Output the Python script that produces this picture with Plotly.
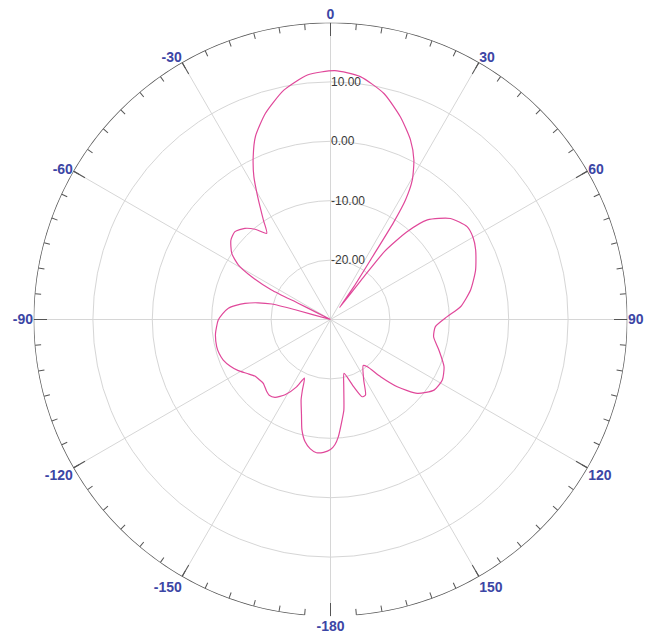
import numpy as np
import plotly.graph_objects as go

# ---- data ----
theta_deg = [
    -180, -177, -174, -171, -168.2, -165.5, -163.1, -159.9, -158.3, -156.0,
    -153.3, -148.9, -144.5, -141, -138.5, -133.5, -130, -126.8, -123, -119,
    -115, -110.7, -107, -103.4, -96.9, -90.3, -87, -83.7, -81.5, -79.3,
    -77, -75.2, -74.6, -73.5, -64.5, -63.2, -63.3, -63.4, -61.5, -59.4,
    -56.2, -51.4, -47.4, -43.2, -39.9, -36.5, -34.0, -31.1, -28.2, -25.4,
    -22.3, -17.5, -11.5, -5.4, 1.0, 7.0, 13.3, 19.0, 24.0, 27.6,
    30.4, 32.1, 33.0, 33.9, 35.4, 37.0, 38.0, 38.5, 41.1, 44.2,
    49.9, 55.8, 60, 64.4, 71.2, 78.1, 84.4, 88.6, 93.9, 99.5,
    105.7, 112.6, 118.4, 124.3, 130.4, 135.2, 138.8, 142.1, 144.6, 151.2,
    155.1, 157.7, 160.9, 165.9, 168.8, 171.6, 173.4, 176.2, 178, 180,
]
gain_db = [
    -8.1, -7.6, -7.45, -8.0, -9.0, -10.8, -13.2, -15.6, -17.2, -19.2,
    -17.3, -15.2, -13.9, -13.6, -13.8, -14.4, -14.3, -14.1, -13.3, -12.25,
    -11.4, -10.7, -10.4, -10.3, -10.5, -11.1, -11.8, -12.7, -13.9, -15.35,
    -17.5, -19.8, -24.0, -30.0, -30.0, -27.7, -23.9, -18.9, -14.9, -12.0,
    -10.0, -8.55, -8.15, -8.95, -10.2, -11.95, -9.8, -6.5, -2.7, 0.34,
    3.3, 6.4, 9.4, 11.35, 11.9, 11.2, 9.1, 6.1, 3.1, 0.3,
    -2.8, -6.25, -10.5, -17.9, -23.2, -27.5, -21.0, -15.3, -10.4, -6.6,
    -3.6, -2.2, -2.3, -2.9, -4.2, -5.9, -8.0, -10.35, -12.3, -12.4,
    -11.05, -9.3, -8.6, -8.9, -10.8, -14.05, -17.2, -19.9, -20.5, -18.4,
    -16.0, -15.95, -18.0, -20.65, -18.5, -14.6, -13.0, -10.2, -8.9, -8.1,
]
radial_ticks = [-20, -10, 0, 10]
radial_labels = ["-20.00", "-10.00", "0.00", "10.00"]
angle_ticks = [0, 30, 60, 90, 120, 150, 180, 210, 240, 270, 300, 330]
angle_labels = ["0", "30", "60", "90", "120", "150", "-180",
                "-150", "-120", "-90", "-60", "-30"]
r_min, r_max = -30, 20

W, H = 649, 643
cx, cy, R = 330.5, 319.5, 297
dom_x = [(cx - R) / W, (cx + R) / W]
dom_y = [1 - (cy + R) / H, 1 - (cy - R) / H]

fig = go.Figure()

# outer frame circle (with the small gap around 180)
frame_theta = np.linspace(-175, 175, 351)
fig.add_trace(go.Scatterpolar(
    r=np.full(frame_theta.shape, r_max), theta=frame_theta, mode="lines",
    line=dict(color="#555555", width=1.5), cliponaxis=False,
    hoverinfo="skip", showlegend=False, subplot="polar2"))

fig.add_trace(go.Scatterpolar(
    r=gain_db, theta=theta_deg, mode="lines",
    line=dict(color="#e0489a", width=1.2, shape="spline", smoothing=0.6),
    showlegend=False, subplot="polar"))

label_font = dict(family="Liberation Sans, Arial", size=14, color="#3c46a5", weight="bold")

fig.update_layout(
    width=W, height=H, autosize=False,
    margin=dict(l=0, r=0, t=0, b=0),
    paper_bgcolor="white",
    polar=dict(
        domain=dict(x=dom_x, y=dom_y),
        bgcolor="white",
        radialaxis=dict(
            range=[r_min, r_max], tickvals=radial_ticks, ticktext=radial_labels,
            angle=90, tickangle=90, side="clockwise",
            showline=False, ticks="", gridcolor="#d6d6d6", gridwidth=1,
            tickfont=dict(family="Liberation Sans, Arial", size=12, color="#3a3a3a"),
        ),
        angularaxis=dict(
            rotation=90, direction="clockwise",
            tickvals=angle_ticks, ticktext=angle_labels,
            ticks="inside", ticklen=13, tickwidth=1.3, tickcolor="#555555",
            showline=False, gridcolor="#d6d6d6", gridwidth=1,
            tickfont=label_font,
        ),
    ),
    polar2=dict(
        domain=dict(x=dom_x, y=dom_y),
        bgcolor="rgba(0,0,0,0)",
        radialaxis=dict(range=[r_min, r_max], visible=False),
        angularaxis=dict(
            rotation=90, direction="clockwise",
            tickmode="linear", tick0=0, dtick=5,
            ticks="inside", ticklen=6, tickwidth=1.2, tickcolor="#555555",
            showticklabels=False, showgrid=False, showline=False,
        ),
    ),
)

fig.write_html(
    "out.html",
    config={"displayModeBar": False},
    post_script="document.body.style.margin='0';document.body.style.overflow='hidden';",
)
